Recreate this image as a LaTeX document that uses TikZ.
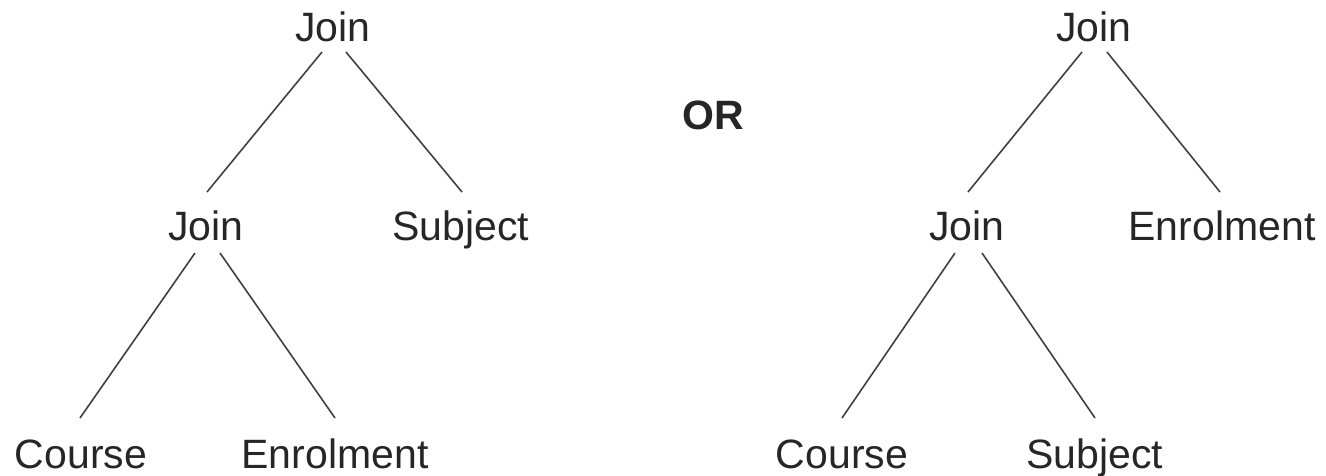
\documentclass[tikz,border=0pt]{standalone}
\usepackage{fontspec}
\setmainfont{Liberation Sans}
\begin{document}
\begin{tikzpicture}[x=1pt,y=1pt,
  lbl/.style={anchor=base,inner sep=0pt,font=\fontsize{41}{48}\selectfont,text=black!85},
  orlbl/.style={anchor=center,inner sep=0pt,font=\fontsize{41}{48}\selectfont\bfseries,text=black!85},
  edge/.style={line width=1.6pt,draw=black!75}]
\useasboundingbox (0,0) rectangle (1326,475);
% left tree
\node[lbl] (j1) at (333,433) {Join};
\node[lbl] (j2) at (206,235) {Join};
\node[lbl] (s1) at (461,235) {Subject};
\node[lbl] (c1) at (81,7) {Course};
\node[lbl] (e1) at (335,7) {Enrolment};
\draw[edge] ([xshift=-11pt,yshift=-10pt]j1.base) -- ([xshift=1pt,yshift=48pt]j2.base);
\draw[edge] ([xshift=13pt,yshift=-10pt]j1.base) -- ([xshift=1pt,yshift=48pt]s1.base);
\draw[edge] ([xshift=-11pt,yshift=-13pt]j2.base) -- ([xshift=-1pt,yshift=50pt]c1.base);
\draw[edge] ([xshift=14pt,yshift=-13pt]j2.base) -- ([yshift=50pt]e1.base);
% OR
\node[orlbl] (or) at (713,360) {OR};
% right tree
\node[lbl] (j3) at (1094,433) {Join};
\node[lbl] (j4) at (967,235) {Join};
\node[lbl] (e2) at (1222,235) {Enrolment};
\node[lbl] (c2) at (842,7) {Course};
\node[lbl] (s2) at (1095,7) {Subject};
\draw[edge] ([xshift=-12pt,yshift=-10pt]j3.base) -- ([xshift=1pt,yshift=48pt]j4.base);
\draw[edge] ([xshift=13pt,yshift=-10pt]j3.base) -- ([xshift=-2pt,yshift=48pt]e2.base);
\draw[edge] ([xshift=-12pt,yshift=-13pt]j4.base) -- ([yshift=50pt]c2.base);
\draw[edge] ([xshift=15pt,yshift=-13pt]j4.base) -- ([yshift=50pt]s2.base);
\end{tikzpicture}
\end{document}
